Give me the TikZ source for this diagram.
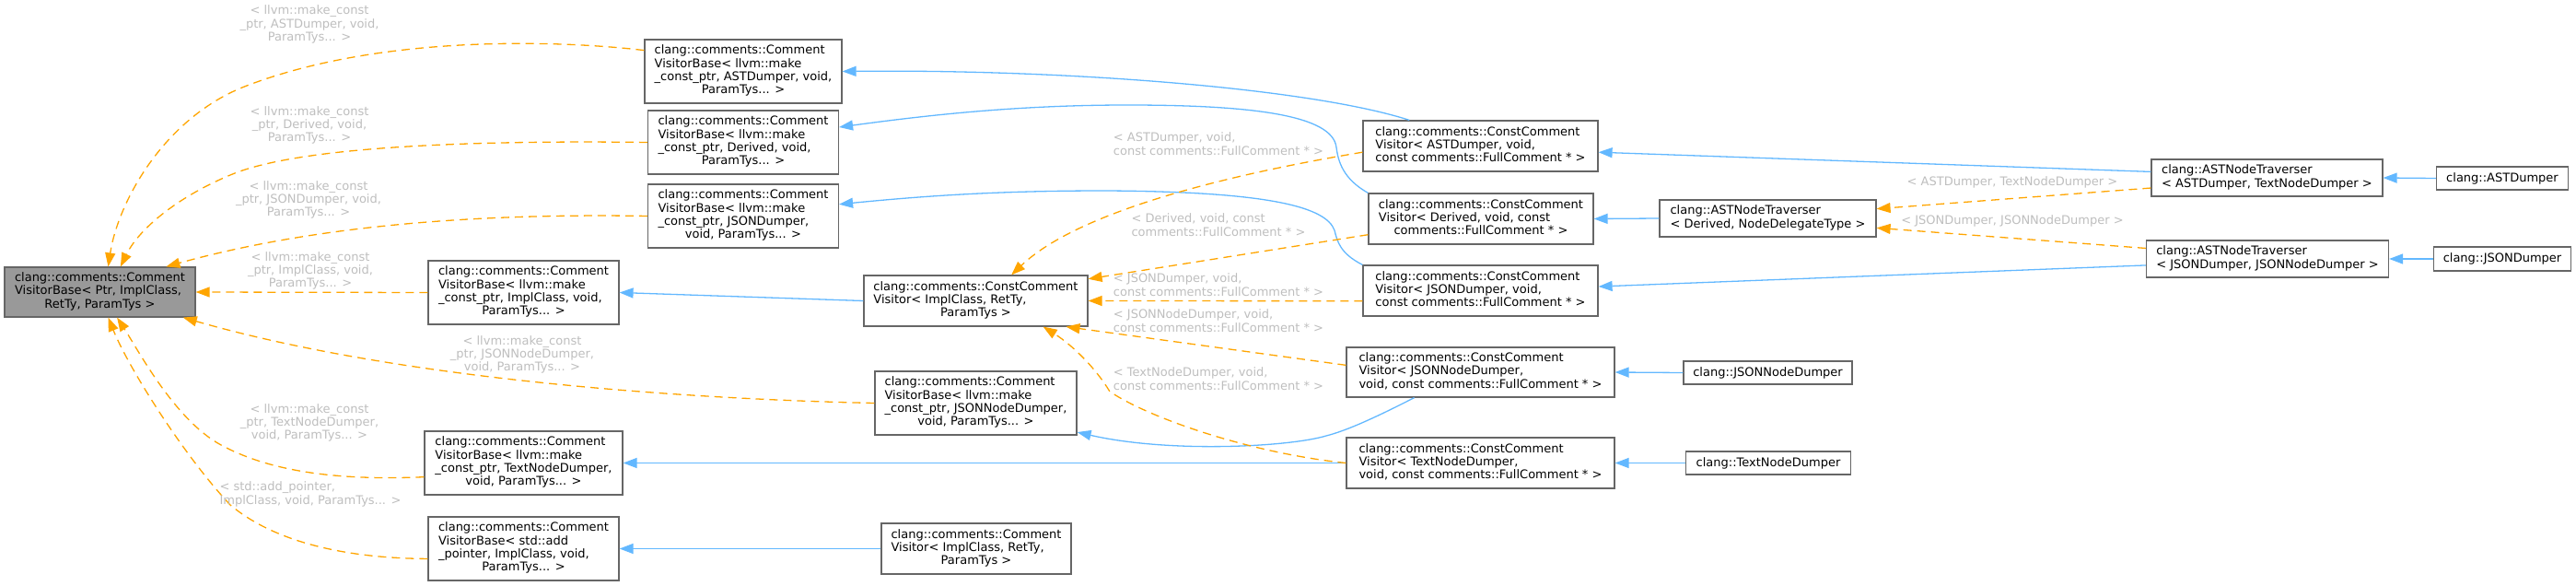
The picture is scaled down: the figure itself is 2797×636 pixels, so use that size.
\documentclass[tikz,border=0pt]{standalone}
\usepackage{fontspec}
\setmainfont{DejaVu Sans}
\usetikzlibrary{arrows.meta}
\definecolor{inhblue}{HTML}{63B8FF}
\definecolor{tmplorange}{HTML}{FFA500}
\definecolor{lblgrey}{HTML}{BEBEBE}
\definecolor{boxgrey}{HTML}{666666}
\definecolor{basefill}{HTML}{999999}
% left-justified lines, last line centred
\newcommand{\doxlines}[2]{\begin{tabular}{@{}l@{}}#1\\\multicolumn{1}{@{}c@{}}{#2}\end{tabular}}

\begin{document}
\begin{tikzpicture}[x=0.5pt,y=-0.5pt,
  every node/.style={font=\fontsize{6.5pt}{7.15pt}\selectfont},
  cls/.style={draw=boxgrey,line width=0.6pt,fill=white,inner sep=0pt,align=center},
  inh/.style={inhblue,line width=0.65pt,-{Triangle[length=7.5pt,width=5.5pt]}},
  tmpl/.style={tmplorange,line width=0.65pt,dash pattern=on 4.5pt off 3pt,
    -{Triangle[length=7.5pt,width=5.5pt]}},
  lbl/.style={text=lblgrey,inner sep=0pt,align=center}]
\useasboundingbox (0,0) rectangle (2797,636);

% classes
\node[cls,fill=basefill,minimum width=103.5pt,minimum height=27pt] (root) at (108.5,317)
  {\doxlines{clang::comments::Comment\\VisitorBase< Ptr, ImplClass,}{RetTy, ParamTys >}};
\node[cls,minimum width=107pt,minimum height=34.5pt] (vbast) at (807,77.5)
  {\doxlines{clang::comments::Comment\\VisitorBase< llvm::make\\\_const\_ptr, ASTDumper, void,}{ParamTys... >}};
\node[cls,minimum width=103.5pt,minimum height=34.5pt] (vbder) at (807,154.5)
  {\doxlines{clang::comments::Comment\\VisitorBase< llvm::make\\\_const\_ptr, Derived, void,}{ParamTys... >}};
\node[cls,minimum width=103.5pt,minimum height=34.5pt] (vbjson) at (807,234.5)
  {\doxlines{clang::comments::Comment\\VisitorBase< llvm::make\\\_const\_ptr, JSONDumper,}{void, ParamTys... >}};
\node[cls,minimum width=103.5pt,minimum height=34.5pt] (vbimpl) at (568.5,317.5)
  {\doxlines{clang::comments::Comment\\VisitorBase< llvm::make\\\_const\_ptr, ImplClass, void,}{ParamTys... >}};
\node[cls,minimum width=107.5pt,minimum height=34.5pt] (vbtext) at (568.5,502.5)
  {\doxlines{clang::comments::Comment\\VisitorBase< llvm::make\\\_const\_ptr, TextNodeDumper,}{void, ParamTys... >}};
\node[cls,minimum width=103.5pt,minimum height=34.5pt] (vbadd) at (568.5,595.5)
  {\doxlines{clang::comments::Comment\\VisitorBase< std::add\\\_pointer, ImplClass, void,}{ParamTys... >}};
\node[cls,minimum width=121.5pt,minimum height=27.5pt] (ccv) at (1059.5,326.5)
  {\doxlines{clang::comments::ConstComment\\Visitor< ImplClass, RetTy,}{ParamTys >}};
\node[cls,minimum width=109.5pt,minimum height=34.5pt] (vbjsonnode) at (1059.5,437.5)
  {\doxlines{clang::comments::Comment\\VisitorBase< llvm::make\\\_const\_ptr, JSONNodeDumper,}{void, ParamTys... >}};
\node[cls,minimum width=103pt,minimum height=27.5pt] (cv) at (1060,595.5)
  {\doxlines{clang::comments::Comment\\Visitor< ImplClass, RetTy,}{ParamTys >}};
\node[cls,minimum width=127.5pt,minimum height=27.5pt] (ccvast) at (1607.5,158.5)
  {\doxlines{clang::comments::ConstComment\\Visitor< ASTDumper, void,}{const comments::FullComment * >}};
\node[cls,minimum width=122pt,minimum height=27.5pt] (ccvder) at (1608,237.5)
  {\doxlines{clang::comments::ConstComment\\Visitor< Derived, void, const}{comments::FullComment * >}};
\node[cls,minimum width=127.5pt,minimum height=27.5pt] (ccvjson) at (1607.5,315.5)
  {\doxlines{clang::comments::ConstComment\\Visitor< JSONDumper, void,}{const comments::FullComment * >}};
\node[cls,minimum width=145.5pt,minimum height=27pt] (ccvjsonnode) at (1607.5,404)
  {\doxlines{clang::comments::ConstComment\\Visitor< JSONNodeDumper,}{void, const comments::FullComment * >}};
\node[cls,minimum width=145.5pt,minimum height=27.5pt] (ccvtext) at (1607.5,502.5)
  {\doxlines{clang::comments::ConstComment\\Visitor< TextNodeDumper,}{void, const comments::FullComment * >}};
\node[cls,minimum width=117.5pt,minimum height=20pt] (antder) at (1919.5,237)
  {\doxlines{clang::ASTNodeTraverser}{< Derived, NodeDelegateType >}};
\node[cls,minimum width=125.5pt,minimum height=20pt] (antast) at (2461.5,193)
  {\doxlines{clang::ASTNodeTraverser}{< ASTDumper, TextNodeDumper >}};
\node[cls,minimum width=131.5pt,minimum height=20pt] (antjson) at (2462,281)
  {\doxlines{clang::ASTNodeTraverser}{< JSONDumper, JSONNodeDumper >}};
\node[cls,minimum width=71.5pt,minimum height=12.5pt] (astdumper) at (2717,193.5) {clang::ASTDumper};
\node[cls,minimum width=74.5pt,minimum height=13pt] (jsondumper) at (2717,281) {clang::JSONDumper};
\node[cls,minimum width=91.5pt,minimum height=12.5pt] (jsonnodedumper) at (1919.5,404.5) {clang::JSONNodeDumper};
\node[cls,minimum width=89.5pt,minimum height=12.5pt] (textnodedumper) at (1920,502.5) {clang::TextNodeDumper};

% public inheritance
\draw[inh] (ccv.west) -- (vbimpl.east);
\draw[inh] (ccvtext.west) -- (vbtext.east);
\draw[inh] (cv.west) -- (vbadd.east);
\draw[inh] (ccvast.160) .. controls (1420,95) and (1150,75) .. (vbast.east);
\draw[inh] (ccvder.north west) .. controls (1458,194) and (1453,175) .. (1451,160)
  .. controls (1447,125) and (1360,114) .. (1224,114) .. controls (1100,114) and (1000,126) .. (vbder.9);
\draw[inh] (ccvjson.north west) .. controls (1455,275) and (1452,262) .. (1449,250)
  .. controls (1440,225) and (1380,208) .. (1200,207) .. controls (1080,207) and (1000,213) .. (vbjson.7);
\draw[inh] (ccvjsonnode.201) .. controls (1490,455) and (1460,468) .. (1440,473)
  .. controls (1400,485) and (1270,492) .. (vbjsonnode.-16);
\draw[inh] (antast.177) -- (ccvast.-3);
\draw[inh] (antder.west) -- (ccvder.east);
\draw[inh] (antjson.183) -- (ccvjson.2.5);
\draw[inh] (jsonnodedumper.west) -- (ccvjsonnode.east);
\draw[inh] (textnodedumper.west) -- (ccvtext.east);
\draw[inh] (astdumper.west) -- (antast.east);
\draw[inh] (jsondumper.west) -- (antjson.east);

% template instances
\draw[tmpl] (vbast.168) .. controls (620,45) and (420,35) .. (268,93)
  .. controls (178,127) and (128,220) .. (root.72);
\draw[tmpl] (vbder.west) .. controls (500,152) and (320,160) .. (250,190)
  .. controls (190,215) and (150,250) .. (root.51.5);
\draw[tmpl] (vbjson.west) .. controls (500,231) and (330,248) .. (root.21.5);
\draw[tmpl] (vbimpl.west) -- (root.east);
\draw[tmpl] (vbjsonnode.west) .. controls (700,432) and (412,406) .. (root.-17);
\draw[tmpl] (vbtext.188) .. controls (360,522) and (290,510) .. (240,483)
  .. controls (190,456) and (150,380) .. (root.-56);
\draw[tmpl] (vbadd.186) .. controls (380,606) and (300,590) .. (250,548)
  .. controls (200,495) and (140,400) .. (root.-72.5);
\draw[tmpl] (ccvast.183) .. controls (1330,190) and (1170,230) .. (ccv.36);
\draw[tmpl] (ccvder.188) -- (ccv.11);
\draw[tmpl] (ccvjson.185) -- (ccv.east);
\draw[tmpl] (ccvjsonnode.177) -- (ccv.-16);
\draw[tmpl] (ccvtext.west) .. controls (1360,492) and (1250,455) .. (1205,425)
  .. controls (1190,400) and (1165,375) .. (ccv.-21);
\draw[tmpl] (antast.185) -- (antder.5);
\draw[tmpl] (antjson.175) -- (antder.-5);

% edge labels
\node[lbl] (la) at (336,26.5) {< llvm::make\_const\\\_ptr, ASTDumper, void,\\ParamTys... >};
\node[lbl] (lb) at (336,136) {< llvm::make\_const\\\_ptr, Derived, void,\\ParamTys... >};
\node[lbl] (lc) at (335,217) {< llvm::make\_const\\\_ptr, JSONDumper, void,\\ParamTys... >};
\node[lbl] (ld) at (337,294) {< llvm::make\_const\\\_ptr, ImplClass, void,\\ParamTys... >};
\node[lbl] (le) at (567,385) {< llvm::make\_const\\\_ptr, JSONNodeDumper,\\void, ParamTys... >};
\node[lbl] (lf) at (336,459) {< llvm::make\_const\\\_ptr, TextNodeDumper,\\void, ParamTys... >};
\node[lbl] (lg) at (337,537) {\doxlines{< std::add\_pointer,}{ImplClass, void, ParamTys... >}};
\node[lbl] (lh) at (1323,158) {\doxlines{< ASTDumper, void,}{const comments::FullComment * >}};
\node[lbl] (li) at (1323,246) {\doxlines{< Derived, void, const}{comments::FullComment * >}};
\node[lbl] (lj) at (1323,311) {\doxlines{< JSONDumper, void,}{const comments::FullComment * >}};
\node[lbl] (lk) at (1323,350) {\doxlines{< JSONNodeDumper, void,}{const comments::FullComment * >}};
\node[lbl] (ll) at (1323,413) {\doxlines{< TextNodeDumper, void,}{const comments::FullComment * >}};
\node[lbl] (lm) at (2185,198) {< ASTDumper, TextNodeDumper >};
\node[lbl] (ln) at (2185,240) {< JSONDumper, JSONNodeDumper >};
\end{tikzpicture}
\end{document}
